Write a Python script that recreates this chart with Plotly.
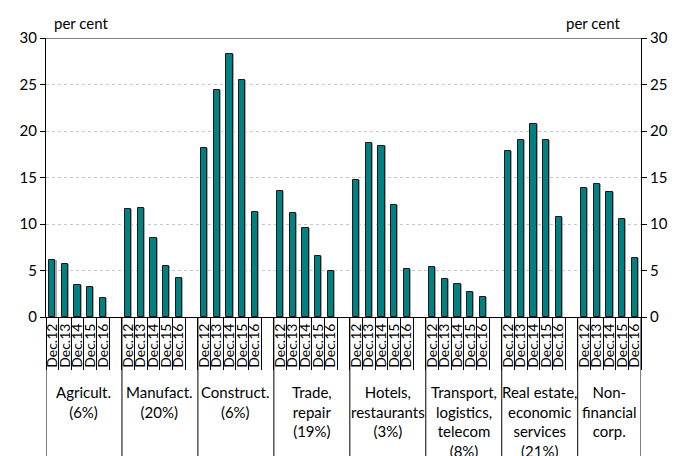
import plotly.graph_objects as go

# Adatok
groups = ['Agricult.<br>(6%)', 'Manufact.<br>(20%)', 'Construct.<br>(6%)',
          'Trade,<br>repair<br>(19%)', 'Hotels,<br>restaurants<br>(3%)',
          'Transport,<br>logistics,<br>telecom<br>(8%)',
          'Real estate,<br>economic<br>services<br>(21%)',
          'Non-<br>financial<br>corp.']
periods = ['Dec.12', 'Dec.13', 'Dec.14', 'Dec.15', 'Dec.16']

agricult = [6.1, 5.7, 3.4, 3.2, 2.0]
manufact = [11.6, 11.7, 8.5, 5.5, 4.2]
construct = [18.2, 24.4, 28.3, 25.5, 11.3]
trade = [13.5, 11.2, 9.6, 6.6, 4.9]
hotels = [14.7, 18.7, 18.4, 12.0, 5.2]
transport = [5.4, 4.1, 3.5, 2.7, 2.2]
real_estate = [17.9, 19.0, 20.8, 19.0, 10.7]
nonfin = [13.9, 14.3, 13.4, 10.5, 6.3]

series = [agricult, manufact, construct, trade, hotels, transport, real_estate, nonfin]

font = 'Lato'

# Kategória pozíciók: csoportonként 5 oszlop + 1 üres hely
xs, ys, labels = [], [], []
for g, vals in enumerate(series):
    for i, v in enumerate(vals):
        xs.append(g * 6 + i)
        ys.append(v)
        labels.append(periods[i])

n_slots = len(series) * 6 - 1
boundaries = [k - 0.5 for k in range(n_slots + 1)]
group_edges = [g * 6 - 0.5 for g in range(len(series))] + [n_slots - 0.5]

fig = go.Figure()
# árnyék az oszlopok mögött (jobbra eltolva)
fig.add_trace(go.Bar(
    x=xs, y=ys, width=0.5, offset=-0.17,
    marker=dict(color='#a8a8a8', line=dict(width=0)),
    showlegend=False, hoverinfo='skip'
))
fig.add_trace(go.Bar(
    x=xs, y=ys, width=0.5,
    marker=dict(color='#008080', line=dict(color='#1a1a1a', width=1)),
    showlegend=False, hoverinfo='y'
))
# láthatatlan pont a jobb oldali tengelyhez
fig.add_trace(go.Scatter(x=[0], y=[0], yaxis='y2', mode='markers',
                         marker=dict(opacity=0), showlegend=False, hoverinfo='skip'))

shapes = []
for e in group_edges:
    shapes.append(dict(type='line', xref='x', yref='paper', x0=e, x1=e, y0=0, y1=-0.5,
                       line=dict(color='black', width=1)))
# felső szürke vonal
shapes.append(dict(type='line', xref='paper', yref='y', x0=0, x1=1, y0=30, y1=30,
                   line=dict(color='#808080', width=2)))

annotations = []
for g, name in enumerate(groups):
    lo = group_edges[g]
    hi = group_edges[g + 1]
    annotations.append(dict(x=(lo + hi) / 2, y=-0.228, xref='x', yref='paper',
                            text=name, showarrow=False, xanchor='center', yanchor='top',
                            font=dict(family=font, size=15, color='black')))
annotations.append(dict(x=0.01, y=1.055, xref='paper', yref='paper', text='per cent',
                        showarrow=False, xanchor='left', yanchor='middle',
                        font=dict(family=font, size=15, color='black')))
annotations.append(dict(x=0.97, y=1.055, xref='paper', yref='paper', text='per cent',
                        showarrow=False, xanchor='right', yanchor='middle',
                        font=dict(family=font, size=15, color='black')))

yax = dict(range=[0, 30], dtick=5, tickmode='linear', showline=True, linecolor='black',
           linewidth=1, ticks='outside', ticklen=5, tickcolor='black',
           tickfont=dict(family=font, size=15, color='black'), zeroline=False)

fig.update_layout(
    width=686, height=456,
    margin=dict(l=46, r=45, t=38, b=139),
    plot_bgcolor='white', paper_bgcolor='white',
    barmode='overlay', bargap=0,
    xaxis=dict(range=[-0.5, n_slots - 0.5], tickmode='array', tickvals=xs, ticktext=labels,
               tickangle=-90, ticks='', showline=True, linecolor='black', linewidth=1,
               showgrid=False, zeroline=False,
               tickfont=dict(family=font, size=14, color='black'),
               minor=dict(tickmode='array', tickvals=boundaries, ticks='outside',
                          ticklen=52, tickcolor='black', tickwidth=1, showgrid=False)),
    yaxis=dict(**yax, side='left', showgrid=True, gridcolor='#c8c8c8',
               griddash='3px,3px', gridwidth=1),
    yaxis2=dict(**yax, side='right', overlaying='y', showgrid=False),
    shapes=shapes,
    annotations=annotations,
)

# HTML mentés (oldal margó nélkül, eszköztár nélkül)
fig.write_html('out.html', config={'displayModeBar': False},
               post_script="document.body.style.margin='0';")
